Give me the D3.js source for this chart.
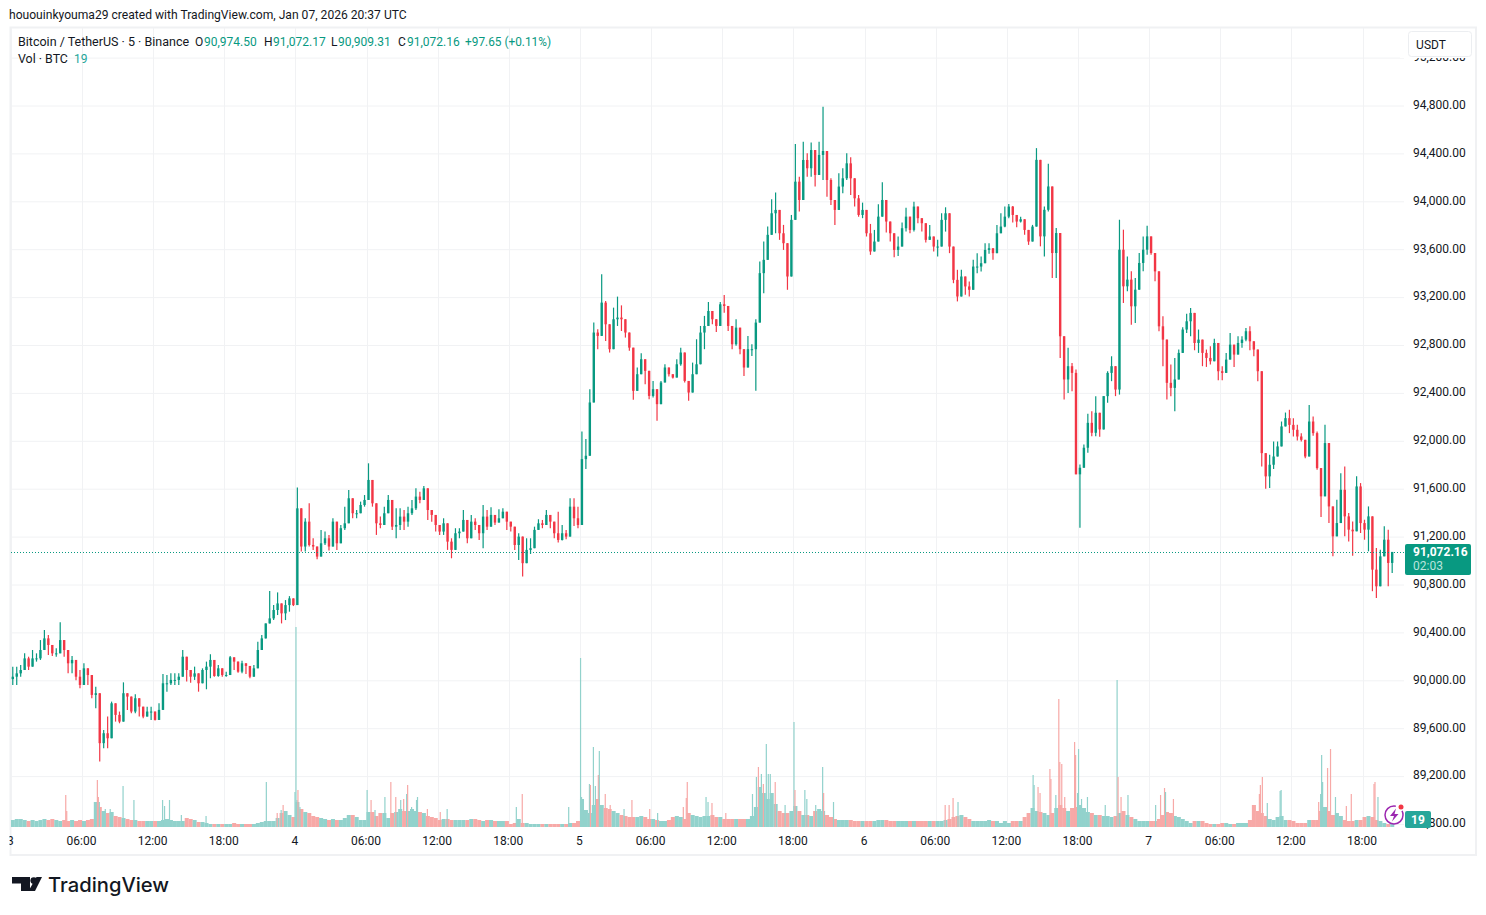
<!DOCTYPE html>
<html><head><meta charset="utf-8">
<script src="https://cdn.jsdelivr.net/npm/d3@7/dist/d3.min.js"></script>
<style>html,body{margin:0;padding:0;background:#fff}svg{display:block}text{font-family:Roboto,"Liberation Sans",sans-serif}</style>
</head><body><svg id="c" width="1486" height="915"></svg>
<script>
// 20-minute buckets, starting Jan 3 00:00, 18 per 6 hours
const closes=[
90030,90058,90086,90183,90114,90183,90183,90253,90350,90295,90225,90225,90336,90253,90142,90170,90030,89961,
90100,90044,89878,89892,89475,89558,89516,89808,89711,89655,89892,89864,89739,89850,89780,89697,89739,89739,
89669,89753,89975,89975,90003,90003,90030,90197,90086,90030,90058,89975,90086,90114,90170,90036,90100,90044,
90044,90192,90156,90072,90142,90120,90030,90100,90253,90350,90475,90517,90587,90642,90559,90628,90684,90628,
91436,91117,91325,91130,91117,91033,91144,91186,91117,91325,91144,91270,91311,91520,91395,91395,91464,91506,
91673,91478,91311,91297,91395,91506,91283,91297,91367,91325,91395,91436,91534,91506,91603,91422,91381,91297,
91242,91311,91158,91089,91228,91242,91339,91186,91325,91297,91228,91367,91283,91381,91317,91353,91408,91325,
91283,91130,91200,90978,91089,91103,91256,91311,91297,91381,91325,91228,91172,91228,91200,91450,91353,91297,
91847,91875,92320,92904,92876,93154,92973,92765,93015,93029,93015,92904,92778,92417,92556,92681,92584,92375,
92431,92306,92487,92612,92556,92528,92639,92737,92500,92403,92556,92639,92904,92959,93084,93015,92959,93140,
93126,92959,92806,92945,92765,92612,92765,92765,92987,93400,93511,93720,93900,93928,93733,93650,93372,93845,
94164,94011,94345,94276,94428,94220,94387,94420,94178,94011,93928,94123,94192,94317,94192,94025,93886,93928,
93733,93581,93664,93872,94011,93831,93733,93594,93622,93775,93872,93761,93956,93859,93817,93678,93706,93622,
93622,93845,93900,93622,93344,93205,93372,93289,93261,93455,93455,93483,93594,93608,93567,93733,93789,93872,
93956,93886,93831,93850,93761,93664,93789,94346,93707,93929,94124,93568,93735,92873,92512,92623,92567,91720,
91775,91942,92150,92067,92234,92095,92373,92567,92623,92428,93596,93290,93346,93123,93262,93485,93596,93707,
93568,93415,92956,92845,92484,92442,92512,92734,92929,92998,93068,92817,92845,92734,92692,92664,92817,92581,
92567,92678,92803,92720,92817,92845,92915,92831,92762,92581,91897,91703,91800,91869,91953,92120,92189,92133,
92092,92036,92008,91869,92161,92064,91772,91536,91981,91452,91202,91313,91591,91369,91258,91244,91619,91313,
91258,91369,90924,90785,91035,91174,90980,91072.16];
const highs=[
90114,90114,90128,90225,90197,90253,90225,90336,90420,90378,90280,90267,90484,90280,90197,90203,90128,90086,
90142,90086,89933,89947,89767,89586,89697,89822,89808,89739,89983,89892,89794,89883,89822,89753,89780,89780,
89697,89808,90053,90044,90058,90058,90058,90253,90128,90086,90114,90030,90100,90156,90217,90114,90128,90086,
90072,90203,90183,90128,90164,90128,90058,90128,90322,90378,90475,90745,90628,90734,90642,90670,90703,90656,
91611,91256,91353,91478,91186,91089,91256,91242,91214,91353,91297,91297,91450,91589,91464,91422,91492,91547,
91812,91617,91381,91367,91450,91547,91381,91436,91436,91422,91450,91506,91603,91575,91623,91492,91408,91381,
91297,91353,91214,91186,91270,91270,91422,91325,91381,91353,91297,91464,91422,91445,91353,91428,91436,91395,
91325,91228,91228,91158,91186,91186,91283,91345,91339,91422,91353,91297,91408,91297,91256,91520,91520,91450,
92078,92014,92431,92987,92931,93390,93168,92959,93112,93204,93131,92959,92848,92765,92612,92731,92667,92500,
92500,92334,92500,92639,92598,92548,92681,92778,92570,92500,92653,92848,92959,93043,93159,93084,93015,93159,
93218,93070,92890,93015,92848,92723,92876,92806,93015,93497,93664,93789,94017,94073,93859,93803,93622,93886,
94478,94206,94498,94401,94492,94331,94498,94790,94262,94192,94011,94234,94276,94401,94367,94128,94053,93989,
93886,93811,93761,93975,94159,93900,93831,93678,93706,93822,93947,93859,93997,93956,93859,93803,93803,93678,
93678,93900,93950,93761,93567,93428,93428,93372,93330,93511,93567,93539,93650,93650,93594,93803,93900,93956,
93978,93961,93872,93872,93839,93720,93803,94444,94346,93957,94313,94124,93776,93498,92776,92776,92650,92595,
91803,91969,92225,92247,92373,92192,92373,92581,92706,92567,93846,93763,93540,93415,93359,93568,93707,93796,
93707,93568,93318,93040,92845,92637,92692,92762,92948,93062,93109,93040,92929,92803,92762,92790,92853,92678,
92623,92734,92901,92776,92873,92873,92942,92956,92817,92720,92147,91828,91883,91994,91994,92161,92236,92259,
92189,92133,92064,91994,92300,92203,92078,91730,92133,91786,91383,91508,91730,91786,91397,91327,91703,91647,
91341,91452,91230,91105,91091,91286,91258,91072.17];
const lows=[
89961,89961,90030,90086,90086,90142,90156,90170,90253,90211,90203,90197,90239,90197,90058,90058,90000,89933,
90058,89961,89850,89767,89322,89433,89433,89697,89655,89641,89780,89753,89725,89725,89697,89683,89697,89669,
89664,89739,89947,89905,89961,89961,89961,90072,89989,89980,90003,89905,90030,89925,90017,90030,90030,90030,
90030,90058,90086,90064,90058,90053,90017,90044,90225,90322,90406,90489,90503,90545,90475,90503,90573,90620,
90628,91075,91075,91117,91089,91011,91117,91130,91083,91200,91089,91228,91256,91450,91353,91353,91436,91450,
91589,91450,91214,91270,91297,91395,91256,91186,91256,91256,91283,91381,91422,91478,91561,91339,91325,91242,
91214,91214,91089,91019,91144,91186,91270,91144,91256,91256,91172,91103,91256,91325,91297,91325,91381,91256,
91242,91089,91005,90866,91005,91055,91194,91256,91270,91297,91270,91186,91150,91167,91178,91270,91289,91270,
91297,91764,92264,92681,92765,93056,92834,92737,92862,92959,92917,92862,92751,92342,92445,92598,92473,92348,
92361,92167,92381,92487,92537,92520,92548,92626,92487,92334,92520,92626,92765,92765,92987,92973,92909,93070,
93070,92917,92765,92793,92723,92542,92681,92709,92417,93177,93233,93539,93761,93733,93678,93594,93261,93567,
94039,93914,94123,94206,94206,94123,94262,94178,94039,93970,93803,93984,94067,94178,94053,93956,93872,93859,
93706,93553,93589,93761,93914,93739,93664,93533,93544,93692,93747,93733,93747,93817,93747,93656,93678,93581,
93539,93678,93747,93567,93316,93164,93275,93219,93205,93344,93400,93414,93525,93561,93511,93622,93775,93783,
93859,93822,93783,93822,93720,93636,93706,93985,93624,93540,93915,93359,93359,92692,92345,92400,92414,91803,
91274,91803,91900,92039,92039,92033,92122,92317,92498,92373,92386,93151,93248,92970,92984,93415,93415,93554,
93554,93332,92915,92623,92345,92373,92247,92512,92845,92901,92873,92756,92734,92623,92617,92637,92706,92506,
92506,92609,92692,92617,92776,92776,92831,92756,92706,92498,91786,91600,91605,91764,91911,91994,92120,92064,
92036,92003,91994,91855,92133,92042,91758,91363,91800,91313,91035,91286,91355,91202,91160,91041,91486,91230,
91174,91077,90744,90688,90869,91063,90785,90896];
const firstOpen=90010;
// volume (BTC) in the same buckets
const volumes=[
42,48,48,42,36,42,36,42,48,42,48,42,36,42,36,42,36,42,
36,42,48,150,120,96,84,90,66,60,54,48,42,42,36,36,36,36,
36,36,42,48,42,36,36,36,54,48,42,30,30,24,18,18,18,18,
18,18,24,18,18,18,18,18,24,30,36,36,36,54,84,96,72,60,
150,108,90,84,66,60,54,48,42,48,42,42,54,72,72,60,42,42,
90,90,66,84,84,54,84,90,108,96,96,108,96,90,84,66,60,54,
42,48,48,42,42,42,42,42,48,48,42,36,42,42,36,36,36,36,
18,24,48,24,24,18,18,18,18,18,18,18,18,18,18,24,24,36,
168,102,84,132,168,132,114,108,96,84,72,66,60,60,60,66,60,48,
48,42,36,36,42,60,66,60,48,84,72,66,60,66,66,72,60,60,
48,48,48,48,48,48,48,66,120,240,204,168,204,138,96,84,84,96,
126,96,72,72,66,96,108,96,72,60,48,42,42,42,42,36,36,36,
36,36,36,42,42,42,36,36,36,36,36,36,36,36,36,36,36,36,
36,36,42,48,60,66,72,60,48,36,36,36,36,42,36,36,24,36,
24,36,36,36,60,84,114,96,90,84,72,84,114,132,114,96,114,120,
132,114,90,84,72,72,66,66,60,66,84,96,72,60,48,36,36,36,
36,36,48,72,90,84,66,60,48,36,24,36,36,36,24,18,18,18,
24,24,18,18,24,24,24,42,132,96,84,66,48,42,60,66,42,42,
36,24,24,24,42,42,42,96,120,96,72,84,66,42,36,36,42,42,
60,66,60,42,36,24,18,19];
// single 5-minute bars that stand out of the volume base: bar number, BTC, 1 = up
const spikeBars=[55,56,87,88,89,95,100,113,124,153,155,160,172,197,258,269,273,275,287,288,289,290,292,360,364,368,378,384,389,394,397,400,401,405,410,411,421,434,441,511,517,564,576,577,585,586,589,591,594,595,601,606,620,628,646,654,680,683,684,703,705,709,723,750,754,756,759,761,764,766,768,773,783,792,793,803,805,814,821,822,832,945,949,953,958,1034,1035,1039,1041,1051,1052,1057,1060,1061,1063,1066,1076,1077,1079,1080,1083,1089,1107,1119,1120,1123,1130,1158,1163,1167,1168,1176,1263,1264,1266,1271,1284,1285,1323,1325,1326,1327,1332,1335,1340,1351,1356,1379,1380,1383];
const spikeVols=[192,96,282,180,150,108,108,246,162,162,126,162,72,66,270,84,102,132,210,1200,162,222,120,222,162,102,180,270,180,162,168,198,252,120,162,180,108,90,108,120,198,120,1014,180,258,252,480,246,312,456,198,132,108,162,108,84,120,174,270,180,150,144,84,198,300,360,318,258,498,318,318,270,132,630,222,222,168,132,360,204,150,132,132,174,150,312,252,240,204,348,288,192,768,390,378,180,510,432,204,468,168,180,132,882,300,180,192,132,192,234,210,168,198,252,300,144,216,222,150,198,432,270,354,468,180,126,198,258,270,180];
const spikeUp=[0,0,0,0,1,1,1,1,1,1,1,1,1,1,1,0,1,0,1,1,1,0,1,1,0,1,1,0,0,1,0,1,0,1,1,1,0,0,1,1,0,1,1,1,1,0,1,1,0,1,0,0,1,0,0,1,0,0,0,1,1,0,0,1,1,0,1,0,1,1,1,0,1,1,0,1,1,1,1,0,1,0,0,0,1,1,1,0,0,0,0,1,0,0,0,0,0,0,1,1,1,1,1,1,0,0,1,1,0,0,1,0,0,0,0,1,1,1,0,1,1,1,0,0,1,0,0,0,0,1];
const priceTicks=[88800,89200,89600,90000,90400,90800,91200,91600,92000,92400,92800,93200,93600,94000,94400,94800,95200];
const timeTicks=[0,6,12,18,24,30,36,42,48,54,60,66,72,78,84,90,96,102,108,114];
const timeLabels=["3","06:00","12:00","18:00","4","06:00","12:00","18:00","5","06:00","12:00","18:00","6","06:00","12:00","18:00","7","06:00","12:00","18:00"];
const lastPrice=91072.16, lastVol=19;
const UP="#089981",DN="#F23645",VUP="#92D2CC",VDN="#F7A9A7",GRID="#f1f2f4",INK="#131722";

const svg=d3.select("#c");
const y=d3.scaleLinear().domain([88800,94800]).range([824,105.5]);
const xH=d3.scaleLinear().domain([0,116.67]).range([10.8,1394.2]);
const vy=d3.scaleLinear().domain([0,1200]).range([827,627]);
const xB=i=>xH((i+0.5)/3);
const bars=closes.map((c,i)=>{const o=i?closes[i-1]:firstOpen;return{o,c,h:Math.max(highs[i],o,c),l:Math.min(lows[i],o,c),v:volumes[i],i}});

svg.append("defs").append("clipPath").attr("id","pane").append("rect").attr("x",11).attr("y",28).attr("width",1393).attr("height",799);

// frame
svg.append("rect").attr("x",10.5).attr("y",27.5).attr("width",1465.5).attr("height",827.5).attr("fill","#fff").attr("stroke","#f0f1f3").attr("stroke-width",2);

// axes & grid
const py=svg.append("g").attr("class","price").attr("transform","translate(1404,-1)")
  .call(d3.axisRight(y).tickValues(priceTicks).tickSize(0).tickPadding(9).tickFormat(d3.format(",.2f")));
py.select(".domain").remove();
py.selectAll("text").attr("font-size",12).attr("fill",INK).style("font-family","Roboto");
const grid=svg.append("g").attr("clip-path","url(#pane)");
grid.selectAll("line.h").data(priceTicks).join("line").attr("x1",11).attr("x2",1404).attr("y1",d=>y(d)+.5).attr("y2",d=>y(d)+.5).attr("stroke",GRID);
grid.selectAll("line.v").data(timeTicks).join("line").attr("x1",d=>Math.round(xH(d))+.5).attr("x2",d=>Math.round(xH(d))+.5).attr("y1",28).attr("y2",827).attr("stroke",GRID);
const tx=svg.append("g").attr("transform","translate(-1,828)")
  .call(d3.axisBottom(xH).tickValues(timeTicks).tickSize(0).tickPadding(8).tickFormat((d,i)=>timeLabels[i]));
tx.select(".domain").remove();
tx.selectAll("text").attr("font-size",12).attr("fill",INK).style("font-family","Roboto");
// the first day label is cut by the pane's left edge
svg.append("rect").attr("x",0).attr("y",830).attr("width",9.5).attr("height",20).attr("fill","#fff");

const pane=svg.append("g").attr("clip-path","url(#pane)");
// volume
pane.selectAll("rect.v").data(bars).join("rect").attr("class","v")
  .attr("x",d=>xH(d.i/3)).attr("width",xH(1/3)-xH(0)+.1)
  .attr("y",d=>vy(d.v)).attr("height",d=>vy(0)-vy(d.v)).attr("fill",d=>d.c>=d.o?VUP:VDN);
pane.selectAll("rect.s").data(spikeBars).join("rect").attr("class","s")
  .attr("x",d=>xH(d/12)).attr("width",1.2)
  .attr("y",(d,i)=>vy(spikeVols[i])).attr("height",(d,i)=>vy(0)-vy(spikeVols[i])).attr("fill",(d,i)=>spikeUp[i]?VUP:VDN);
// candles
pane.selectAll("line.w").data(bars).join("line").attr("class","w")
  .attr("x1",d=>xB(d.i)).attr("x2",d=>xB(d.i)).attr("y1",d=>y(d.h)).attr("y2",d=>y(d.l))
  .attr("stroke",d=>d.c>=d.o?UP:DN).attr("stroke-width",1.2);
pane.selectAll("rect.b").data(bars).join("rect").attr("class","b")
  .attr("x",d=>xB(d.i)-1.2).attr("width",2.4)
  .attr("y",d=>y(Math.max(d.o,d.c))).attr("height",d=>Math.max(1,Math.abs(y(d.o)-y(d.c))))
  .attr("fill",d=>d.c>=d.o?UP:DN);
// last price line
svg.append("line").attr("x1",11).attr("x2",1404).attr("y1",Math.round(y(lastPrice))+.5).attr("y2",Math.round(y(lastPrice))+.5)
  .attr("stroke",UP).attr("stroke-dasharray","1 2");

// header texts
const T=(x,yy,s,fill,size=12,w=400,a="start")=>svg.append("text").attr("x",x).attr("y",yy).attr("fill",fill).attr("font-size",size).attr("font-weight",w).attr("text-anchor",a).text(s);
T(9,19,"hououinkyouma29 created with TradingView.com, Jan 07, 2026 20:37 UTC",INK,12.1);
T(18,46,"Bitcoin / TetherUS · 5 · Binance",INK,12.5);
[[195,"O",204,"90,974.50"],[264,"H",273,"91,072.17"],[331,"L",338,"90,909.31"],[398,"C",407,"91,072.16"]].forEach(a=>{T(a[0],46,a[1],INK);T(a[2],46,a[3],UP)});
T(465,46,"+97.65 (+0.11%)",UP,11.85);
T(18,63,"Vol · BTC",INK,12.4);T(74,63,lastVol,"#26a69a");

// USDT button
svg.append("rect").attr("x",1400).attr("y",29).attr("width",75).attr("height",29).attr("fill","#fff");
svg.append("rect").attr("x",1408.5).attr("y",31.5).attr("width",63).attr("height",25).attr("rx",3).attr("fill","#fff").attr("stroke","#eceef1");
T(1431,49,"USDT",INK,12,400,"middle");

// last price tag
svg.append("rect").attr("x",1405).attr("y",544).attr("width",66).attr("height",31).attr("rx",2).attr("fill",UP);
T(1413,556,"91,072.16","#fff",12,700);
T(1413,570,"02:03","#b9e4dc",12,400);
// volume tag
svg.append("rect").attr("x",1405).attr("y",811).attr("width",26).attr("height",17).attr("rx",2).attr("fill","#26a69a");
T(1418,824,lastVol,"#fff",12,700,"middle");
// lightning badge
svg.append("circle").attr("cx",1394).attr("cy",815).attr("r",9).attr("fill","#fff").attr("stroke","#9c27b0").attr("stroke-width",1.5).attr("stroke-dasharray","44 8");
svg.append("path").attr("d","M1396 808.5 L1390 816 L1394 816 L1392 821.5 L1398.5 814 L1394.5 814 Z").attr("fill","#9c27b0");
svg.append("circle").attr("cx",1401).attr("cy",807).attr("r",2.5).attr("fill","#F23645");

// logo
svg.append("path").attr("d","M12 877H30V891H21V883.5H12Z").attr("fill","#131722");
svg.append("circle").attr("cx",33.8).attr("cy",880.6).attr("r",3.4).attr("fill","#131722");
svg.append("path").attr("d","M36.5 877H42L35 891H28.5Z").attr("fill","#131722");
T(48,892,"TradingView","#131722",20.2,500).style("font-family","Inter");
</script></body></html>
